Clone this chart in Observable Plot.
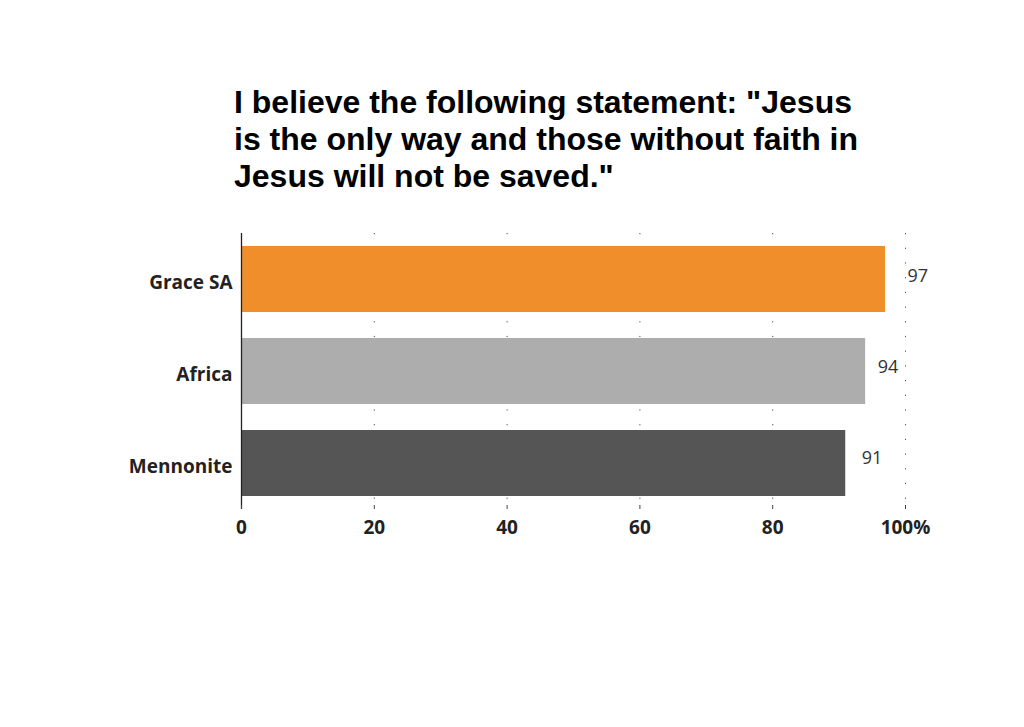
<!DOCTYPE html>
<html>
<head>
<meta charset="utf-8">
<script src="https://cdn.jsdelivr.net/npm/d3@7"></script>
<script src="https://cdn.jsdelivr.net/npm/@observablehq/plot@0.6"></script>
<style>
  html, body { margin: 0; padding: 0; background: #fff; }
  #wrap { position: relative; width: 1024px; height: 727px; overflow: hidden; }
  #title { position: absolute; left: 234px; top: 84px; font-family: "Liberation Sans", Arial, sans-serif;
           font-weight: bold; font-size: 32px; line-height: 37px; color: #000; white-space: nowrap; }
  #chart { position: absolute; left: 0; top: 0; }
</style>
</head>
<body>
<div id="wrap">
  <div id="title">I believe the following statement: "Jesus<br>is the only way and those without faith in<br>Jesus will not be saved."</div>
  <div id="chart"></div>
</div>
<script>
const categories = ["Grace SA", "Africa", "Mennonite"];
const values = [97, 94, 91];
const colors = ["#f08e2c", "#adadad", "#555555"];
const xTicks = [0, 20, 40, 60, 80, 100];
const xTickLabels = ["0", "20", "40", "60", "80", "100%"];

const data = categories.map((c, i) => ({category: c, value: values[i], color: colors[i]}));

// label placement as in the original chart
const labelDx = {"Grace SA": 22, "Africa": 12, "Mennonite": 16};
const labelDy = {"Grace SA": -3, "Africa": -4, "Mennonite": -5};

const chart = Plot.plot({
  width: 1024,
  height: 727,
  marginLeft: 241,
  marginRight: 119,
  marginTop: 233,
  marginBottom: 218,
  style: {fontFamily: "'Open Sans', 'Noto Sans', sans-serif", background: "transparent"},
  x: {domain: [0, 100], ticks: xTicks, label: null},
  y: {domain: categories, paddingInner: 0.28, paddingOuter: 0.13, label: null},
  marks: [
    Plot.ruleX(xTicks.filter(d => d > 0), {stroke: "#222", strokeOpacity: 0.8, strokeDasharray: "1.2,13.5"}),
    Plot.barX(data, {y: "category", x: "value", fill: "color"}),
    ...categories.map(c => Plot.text(data.filter(d => d.category === c), {
      y: "category", x: "value", text: d => String(d.value), dx: labelDx[c], dy: labelDy[c],
      textAnchor: "start", fontSize: 18, fill: "#333"})),
    Plot.ruleX([0], {stroke: "#222", strokeWidth: 1.3}),
    Plot.ruleY([0], {frameAnchor: "bottom", stroke: "#222", strokeWidth: 1.3}),
    Plot.axisX(xTicks, {tickFormat: (d) => xTickLabels[xTicks.indexOf(d)], tickSize: -4, tickPadding: 15,
      fontSize: 19, fontWeight: "bold", fill: "#222", stroke: "#444", anchor: "bottom"}),
    Plot.axisY({tickSize: 0, tickPadding: 9, fontSize: 19, fontWeight: "bold", fill: "#222", anchor: "left", dy: 3})
  ]
});
document.getElementById("chart").appendChild(chart);
</script>
</body>
</html>
